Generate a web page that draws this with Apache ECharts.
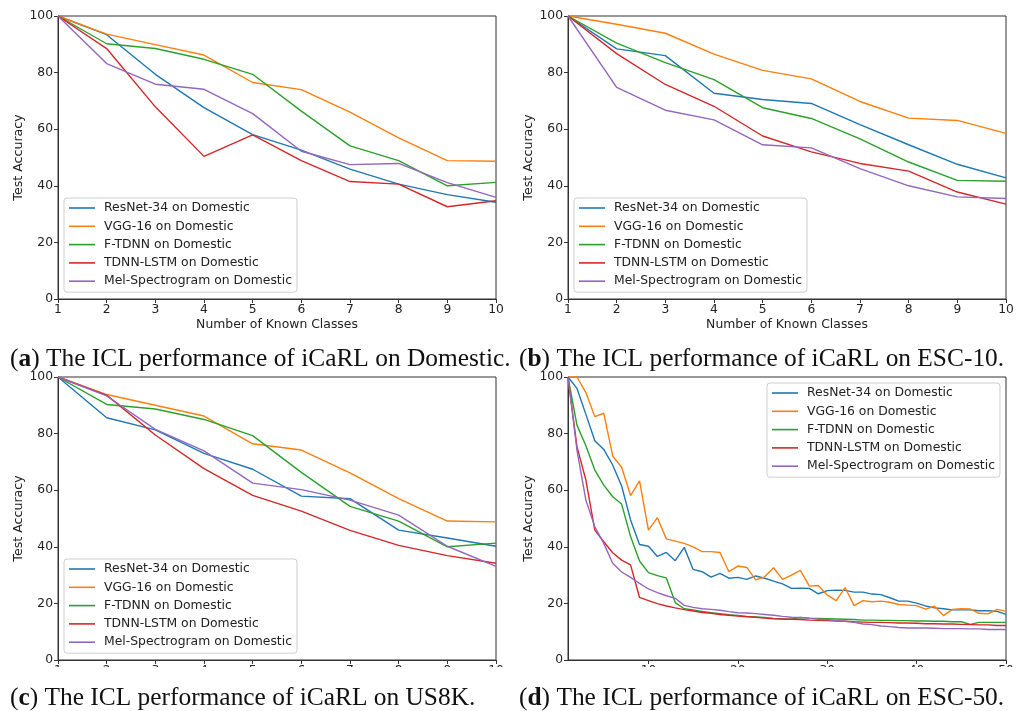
<!DOCTYPE html>
<html>
<head>
<meta charset="utf-8">
<script src="https://cdn.jsdelivr.net/npm/echarts@6/dist/echarts.min.js"></script>
<style>
  html, body { margin: 0; padding: 0; background: #fff; }
  #main { width: 1022px; height: 711px; }
</style>
</head>
<body>
<div id="main"></div>
<script>
// model names (legend)
const models = ['ResNet-34 on Domestic', 'VGG-16 on Domestic', 'F-TDNN on Domestic', 'TDNN-LSTM on Domestic', 'Mel-Spectrogram on Domestic'];
const colors = ['#1f77b4', '#ff7f0e', '#2ca02c', '#d62728', '#9467bd'];

const classes10 = [1, 2, 3, 4, 5, 6, 7, 8, 9, 10];
const classes50 = [1, 2, 3, 4, 5, 6, 7, 8, 9, 10, 11, 12, 13, 14, 15, 16, 17, 18, 19, 20,
  21, 22, 23, 24, 25, 26, 27, 28, 29, 30, 31, 32, 33, 34, 35, 36, 37, 38, 39, 40,
  41, 42, 43, 44, 45, 46, 47, 48, 49, 50];
const yTicks = [0, 20, 40, 60, 80, 100];
const xTicks50 = [10, 20, 30, 40, 50];

// (a) Domestic
const domResNet = [100, 93.4, 79.4, 67.6, 58.1, 52.6, 45.9, 40.6, 36.9, 34.2];
const domVGG = [100, 93.6, 89.9, 86.2, 76.5, 74.0, 66.0, 56.9, 48.9, 48.7];
const domFTDNN = [100, 90.2, 88.5, 84.7, 79.4, 66.4, 54.1, 48.9, 40.0, 41.2];
const domLSTM = [100, 88.5, 67.9, 50.4, 58.0, 48.9, 41.5, 40.6, 32.6, 34.7];
const domMel = [100, 83.2, 75.9, 74.1, 65.5, 52.2, 47.5, 47.9, 41.1, 35.9];

// (b) ESC-10
const esc10ResNet = [100, 88.4, 86.0, 72.7, 70.5, 69.1, 61.6, 54.5, 47.6, 42.8];
const esc10VGG = [100, 97.1, 93.9, 86.5, 80.8, 77.8, 69.8, 63.9, 63.1, 58.5];
const esc10FTDNN = [100, 90.4, 83.5, 77.5, 67.6, 63.8, 56.6, 48.4, 41.9, 41.6];
const esc10LSTM = [100, 86.7, 75.8, 68.1, 57.6, 52.0, 47.9, 45.2, 37.8, 33.5];
const esc10Mel = [100, 74.8, 66.7, 63.3, 54.5, 53.4, 46.1, 40.0, 36.1, 35.5];

// (c) US8K
const usResNet = [100, 85.6, 81.3, 73.0, 67.4, 57.9, 57.0, 45.9, 43.1, 40.2];
const usVGG = [100, 93.8, 90.0, 86.2, 76.4, 74.2, 66.1, 57.0, 49.1, 48.8];
const usFTDNN = [100, 90.3, 88.7, 85.0, 79.3, 66.3, 54.3, 49.1, 40.0, 41.3];
const usLSTM = [100, 93.6, 79.5, 67.6, 58.2, 52.6, 45.8, 40.5, 36.9, 34.2];
const usMel = [100, 93.3, 81.5, 73.9, 62.5, 60.2, 56.5, 51.2, 40.2, 33.1];

// (d) ESC-50
const esc50ResNet = [100, 96.0, 86.8, 77.5, 74.4, 68.9, 61.5, 49.5, 40.8, 40.2,
  36.6, 38.0, 35.1, 39.8, 32.0, 31.2, 29.3, 30.6, 28.9, 29.2,
  28.5, 29.7, 28.9, 27.9, 26.9, 25.3, 25.4, 25.3, 23.4, 24.5,
  24.7, 24.6, 24.0, 24.0, 23.3, 23.1, 22.0, 20.8, 20.8, 20.1,
  19.1, 18.4, 18.1, 17.7, 17.7, 17.7, 17.4, 17.4, 17.2, 16.1];
const esc50VGG = [100, 100, 94.5, 86.0, 87.2, 72.1, 68.1, 58.1, 63.3, 45.9,
  50.3, 42.8, 42.0, 41.2, 40.0, 38.3, 38.3, 38.0, 31.2, 33.2,
  32.7, 28.3, 29.4, 32.6, 28.5, 30.0, 31.7, 26.1, 26.3, 23.0,
  21.0, 25.6, 19.2, 21.0, 20.6, 20.8, 20.4, 19.6, 19.4, 19.2,
  18.0, 19.0, 15.7, 17.9, 18.1, 18.0, 16.5, 16.3, 17.9, 17.2];
const esc50FTDNN = [100, 83.0, 75.7, 67.1, 61.8, 57.7, 55.1, 43.6, 35.0, 30.9,
  29.8, 29.0, 20.3, 18.1, 17.7, 17.2, 16.7, 16.4, 16.0, 15.7,
  15.4, 15.2, 15.0, 14.7, 14.5, 14.4, 15.0, 14.8, 14.7, 14.6,
  14.5, 14.4, 14.3, 14.1, 14.1, 14.0, 14.0, 13.9, 13.9, 13.8,
  13.8, 13.7, 13.7, 13.5, 13.5, 12.6, 13.3, 13.3, 13.3, 13.3];
const esc50LSTM = [100, 75.4, 63.6, 45.9, 41.8, 37.9, 35.3, 33.6, 22.1, 21.0,
  19.9, 19.1, 18.4, 17.8, 17.3, 16.8, 16.5, 16.1, 15.8, 15.5,
  15.3, 15.1, 14.8, 14.6, 14.5, 14.4, 14.3, 14.1, 14.0, 13.9,
  13.8, 13.7, 13.5, 13.4, 13.3, 13.3, 13.2, 13.1, 13.1, 13.0,
  12.8, 12.8, 12.7, 12.7, 12.6, 12.5, 12.4, 12.4, 12.2, 12.2];
const esc50Mel = [100, 74.2, 56.5, 47.1, 41.2, 34.2, 31.1, 29.2, 27.1, 25.1,
  23.8, 22.7, 21.8, 19.3, 18.6, 18.1, 17.9, 17.6, 17.1, 16.7,
  16.6, 16.4, 16.1, 15.8, 15.4, 15.1, 15.0, 14.7, 14.4, 14.3,
  13.9, 13.7, 13.3, 12.7, 12.5, 12.0, 11.8, 11.5, 11.3, 11.3,
  11.3, 11.2, 11.1, 11.1, 11.1, 11.0, 11.0, 10.8, 10.8, 10.8];

const captions = [
  ['a', 'The ICL performance of iCaRL on Domestic.'],
  ['b', 'The ICL performance of iCaRL on ESC-10.'],
  ['c', 'The ICL performance of iCaRL on US8K.'],
  ['d', 'The ICL performance of iCaRL on ESC-50.']
];

const panels = [
  { x: classes10, lines: [domResNet, domVGG, domFTDNN, domLSTM, domMel] },
  { x: classes10, lines: [esc10ResNet, esc10VGG, esc10FTDNN, esc10LSTM, esc10Mel] },
  { x: classes10, lines: [usResNet, usVGG, usFTDNN, usLSTM, usMel] },
  { x: classes50, lines: [esc50ResNet, esc50VGG, esc50FTDNN, esc50LSTM, esc50Mel] }
];

const grids = [
  { left: 58, top: 16, width: 438, height: 283 },
  { left: 568, top: 16, width: 438, height: 283 },
  { left: 58, top: 377, width: 438, height: 283 },
  { left: 568, top: 377, width: 438, height: 283 }
];
const legendPos = [
  { left: 64, top: 198 },
  { left: 574, top: 198 },
  { left: 64, top: 559 },
  { left: 767, top: 383 }
];
const captionPos = [[10, 359], [519, 359], [10, 698], [519, 698]];

const font = 'DejaVu Sans';
const ink = '#222';
const frame = '#333';

let xAxes = [], yAxes = [], series = [], legends = [], graphics = [];

grids.forEach(function (g, i) {
  g.show = true;
  g.borderColor = frame;
  g.borderWidth = 1;
  g.backgroundColor = '#fff';
});

panels.forEach(function (p, i) {
  let big = p.x.length > 10;
  let xa = {
    type: 'value',
    gridIndex: i,
    min: 1,
    max: big ? 50 : 10,
    axisLine: { show: true, lineStyle: { color: frame, width: 1 } },
    axisTick: { show: true, length: 4, lineStyle: { color: frame } },
    axisLabel: { color: ink, fontFamily: font, fontSize: 12.3, margin: 5 },
    splitLine: { show: false }
  };
  if (big) {
    xa.axisTick.customValues = xTicks50;
    xa.axisLabel.customValues = xTicks50;
  } else {
    xa.interval = 1;
  }
  if (i < 2) {
    xa.name = 'Number of Known Classes';
    xa.nameLocation = 'middle';
    xa.nameGap = 20;
    xa.nameTextStyle = { color: ink, fontFamily: font, fontSize: 12.4 };
  }
  xAxes.push(xa);

  yAxes.push({
    type: 'value',
    gridIndex: i,
    min: yTicks[0],
    max: yTicks[yTicks.length - 1],
    interval: 20,
    name: 'Test Accuracy',
    nameLocation: 'middle',
    nameGap: 27,
    nameTextStyle: { color: ink, fontFamily: font, fontSize: 12.6 },
    axisLine: { show: true, lineStyle: { color: frame, width: 1 } },
    axisTick: { show: true, length: 4, lineStyle: { color: frame } },
    axisLabel: { color: ink, fontFamily: font, fontSize: 12.3, margin: 5 },
    splitLine: { show: false }
  });

  p.lines.forEach(function (vals, k) {
    series.push({
      name: models[k],
      type: 'line',
      xAxisIndex: i,
      yAxisIndex: i,
      data: vals.map(function (v, j) { return [p.x[j], v]; }),
      showSymbol: false,
      lineStyle: { width: 1.4, color: colors[k] },
      itemStyle: { color: colors[k] },
      animation: false
    });
  });

  legends.push({
    data: models,
    orient: 'vertical',
    left: legendPos[i].left,
    top: legendPos[i].top,
    icon: 'rect',
    itemWidth: 26,
    itemHeight: 1.6,
    itemGap: 0.3,
    padding: [1, 5, 2, 5],
    backgroundColor: 'rgba(255,255,255,0.85)',
    borderColor: '#cfcfcf',
    borderWidth: 1,
    borderRadius: 3,
    selectedMode: false,
    textStyle: { color: ink, fontFamily: font, fontSize: 12.4, lineHeight: 18, padding: [0, 0, 0, 4] }
  });
});

// the bottom row's tick labels are cut off by the caption strip
graphics.push({
  type: 'rect',
  shape: { x: 0, y: 667, width: 1022, height: 44 },
  style: { fill: '#fff' },
  z: 100
});

captions.forEach(function (c, i) {
  graphics.push({
    type: 'text',
    x: captionPos[i][0],
    y: captionPos[i][1],
    z: 101,
    style: {
      text: '({b|' + c[0] + '}) ' + c[1],
      rich: { b: { fontWeight: 'bold', fontFamily: 'Liberation Serif', fontSize: 25.4, fill: '#111' } },
      fontFamily: 'Liberation Serif',
      fontSize: 25.4,
      fill: '#111',
      verticalAlign: 'middle'
    }
  });
});

const chart = echarts.init(document.getElementById('main'));
chart.setOption({
  animation: false,
  backgroundColor: '#fff',
  grid: grids,
  xAxis: xAxes,
  yAxis: yAxes,
  legend: legends,
  series: series,
  graphic: graphics
});
</script>
</body>
</html>
